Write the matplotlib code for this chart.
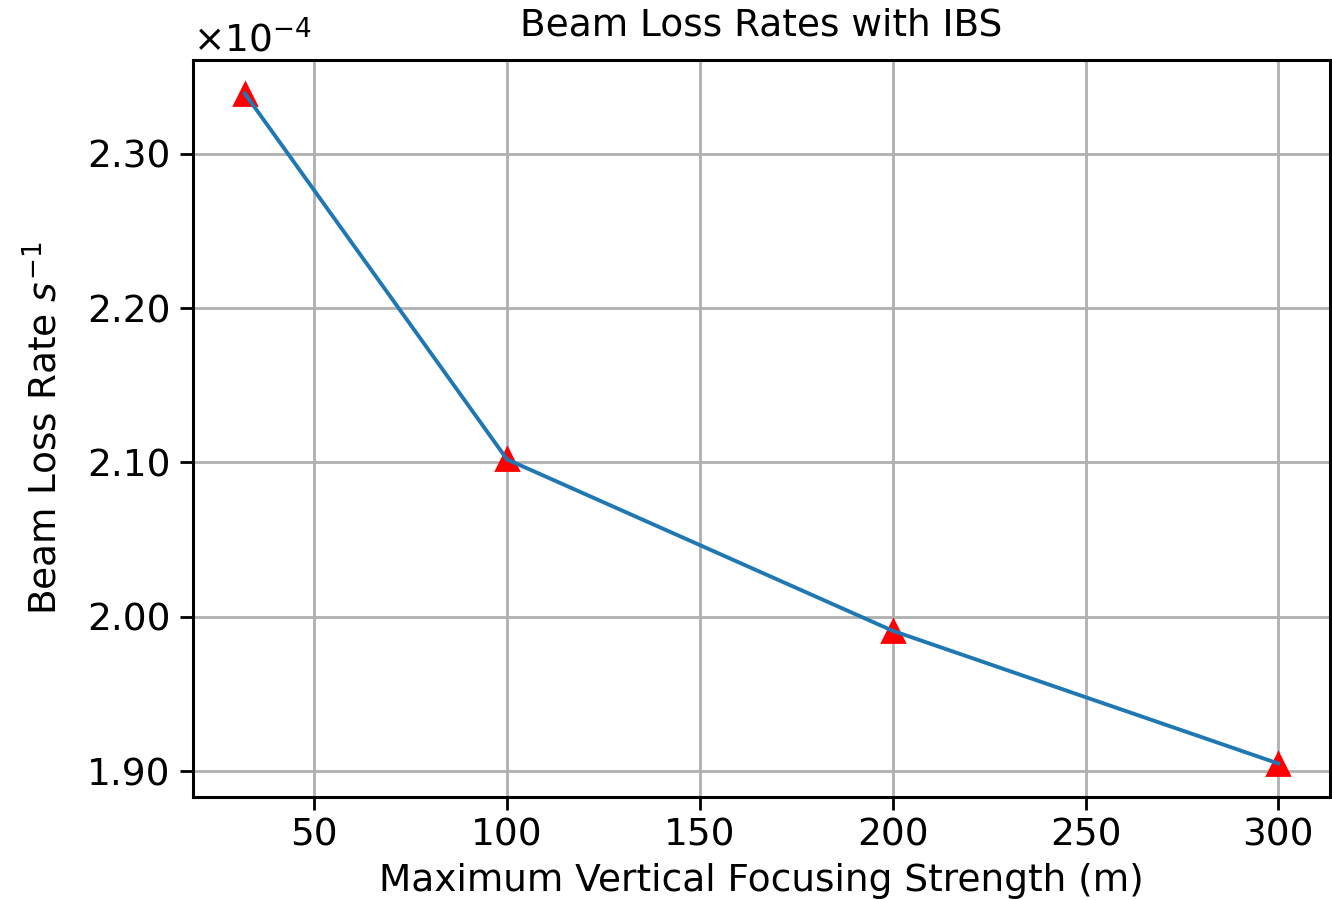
import matplotlib
matplotlib.use("Agg")
import matplotlib.pyplot as plt
from matplotlib.ticker import ScalarFormatter

# Datos
beta_max = [32, 100, 200, 300]
loss_rate = [2.339e-4, 2.102e-4, 1.991e-4, 1.905e-4]
y_ticks = [1.90e-4, 2.00e-4, 2.10e-4, 2.20e-4, 2.30e-4]


class FormatoDosDecimales(ScalarFormatter):
    def _set_format(self):
        self.format = "%1.2f"


plt.rcParams["font.size"] = 13.5
plt.rcParams["axes.linewidth"] = 1.1
plt.rcParams["xtick.major.size"] = 4.7
plt.rcParams["ytick.major.size"] = 4.7
plt.rcParams["xtick.major.width"] = 1.0
plt.rcParams["ytick.major.width"] = 1.0
plt.rcParams["xtick.major.pad"] = 2.5

fig = plt.figure(figsize=(6.66, 4.5), dpi=200)
ax = fig.add_axes([0.145, 0.1144, 0.8535, 0.8189])

ax.plot(beta_max, loss_rate, "r^", markersize=8, zorder=2)
ax.plot(beta_max, loss_rate, color="C0", linewidth=1.4, zorder=3)

ax.set_yticks(y_ticks)
fmt = FormatoDosDecimales(useMathText=True)
fmt.set_powerlimits((0, 0))
ax.yaxis.set_major_formatter(fmt)

ax.grid(True, linewidth=1.0)
ax.set_axisbelow(True)
ax.set_title("Beam Loss Rates with IBS", fontsize=13.5, pad=9)
ax.set_xlabel("Maximum Vertical Focusing Strength (m)", labelpad=3.5)
ax.set_ylabel("Beam Loss Rate $s^{-1}$", labelpad=8)

fig.savefig("out.png", dpi=200)
